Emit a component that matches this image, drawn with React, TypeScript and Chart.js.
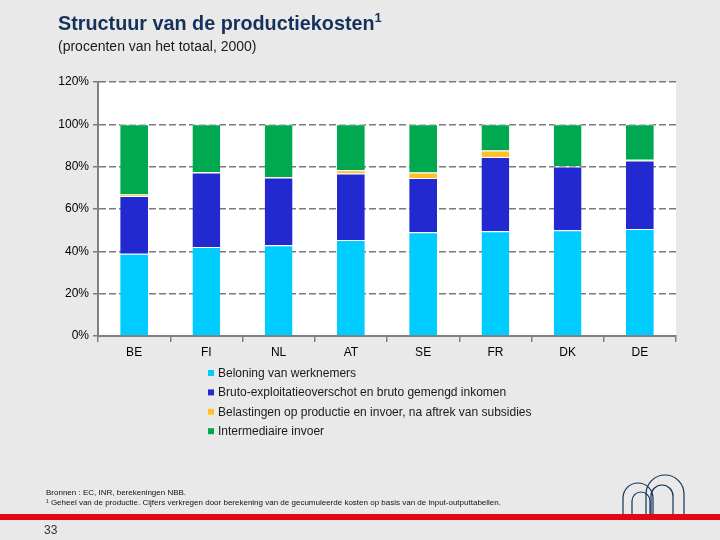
import { useEffect, useRef } from "react";
import { Chart, registerables, type Plugin } from "chart.js";

Chart.register(...registerables);

const COUNTRIES = ["BE", "FI", "NL", "AT", "SE", "FR", "DK", "DE"];
const LOONKOST = [38.8, 42.0, 42.9, 45.3, 49.0, 49.5, 50.0, 50.6];
const EXPLOITATIE = [27.3, 35.3, 32.0, 31.5, 25.7, 35.1, 30.1, 32.3];
const BELASTINGEN = [0.8, 0.2, 0.2, 1.5, 2.6, 3.0, 0.2, 0.4];
const INVOER = [33.1, 22.5, 24.9, 21.7, 22.7, 12.4, 19.7, 16.7];
const Y_TICKS = [0, 20, 40, 60, 80, 100, 120];

const SERIES = [
  { label: "Beloning van werknemers", data: LOONKOST, color: "#00CCFF" },
  { label: "Bruto-exploitatieoverschot en bruto gemengd inkomen", data: EXPLOITATIE, color: "#2329D0" },
  { label: "Belastingen op productie en invoer, na aftrek van subsidies", data: BELASTINGEN, color: "#FFC125" },
  { label: "Intermediaire invoer", data: INVOER, color: "#00A94F" },
];

const FONT = "Arial, 'Liberation Sans', sans-serif";

// white plot background + vertical legend list under the axis
const slidePlugin: Plugin<"bar"> = {
  id: "slide",
  beforeDraw(chart) {
    const { ctx, chartArea } = chart;
    ctx.save();
    ctx.fillStyle = "#ffffff";
    ctx.fillRect(chartArea.left, chartArea.top, chartArea.right - chartArea.left, chartArea.bottom - chartArea.top);
    ctx.restore();
  },
  afterDraw(chart) {
    const { ctx } = chart;
    ctx.save();
    ctx.font = `12px ${FONT}`;
    ctx.textBaseline = "middle";
    chart.data.datasets.forEach((ds, i) => {
      const y = 373 + i * 19.4;
      ctx.fillStyle = ds.backgroundColor as string;
      ctx.fillRect(208, y - 3, 6, 6);
      ctx.fillStyle = "#1a1a1a";
      ctx.fillText(ds.label ?? "", 218, y + 0.5);
    });
    ctx.restore();
  },
};

export default function App() {
  const canvasRef = useRef<HTMLCanvasElement>(null);
  const chartRef = useRef<Chart<"bar"> | null>(null);

  useEffect(() => {
    if (!canvasRef.current) return;
    chartRef.current = new Chart(canvasRef.current, {
      type: "bar",
      data: {
        labels: COUNTRIES,
        datasets: SERIES.map((s) => ({
          label: s.label,
          data: s.data,
          backgroundColor: s.color,
          borderColor: "#ffffff",
          borderWidth: { top: 1, right: 0, bottom: 0, left: 0 },
          borderSkipped: false,
          categoryPercentage: 1,
          barPercentage: 0.385,
        })),
      },
      options: {
        responsive: false,
        animation: false,
        devicePixelRatio: 1,
        layout: { padding: { left: 40, right: 44, top: 82, bottom: 174 } },
        plugins: {
          legend: { display: false },
          title: { display: false },
          tooltip: { enabled: false },
        },
        scales: {
          x: {
            stacked: true,
            afterFit: (scale) => {
              scale.height = 30;
            },
            grid: {
              drawOnChartArea: false,
              offset: true,
              color: "#808080",
              tickLength: 6,
              lineWidth: 1.5,
            },
            border: { color: "#808080", width: 2 },
            ticks: { color: "#000", font: { family: FONT, size: 12 }, padding: 3 },
          },
          y: {
            stacked: true,
            min: 0,
            max: 120,
            afterFit: (scale) => {
              scale.width = 58;
            },
            afterBuildTicks: (scale) => {
              scale.ticks = Y_TICKS.map((v) => ({ value: v }));
            },
            grid: { color: "#7a7a7a", lineWidth: 1.5, tickLength: 5 },
            border: { color: "#808080", width: 2, dash: [7, 3] },
            ticks: {
              color: "#000",
              font: { family: FONT, size: 12 },
              padding: 4,
              callback: (v) => `${v}%`,
            },
          },
        },
      },
      plugins: [slidePlugin],
    });
    return () => {
      chartRef.current?.destroy();
      chartRef.current = null;
    };
  }, []);

  return (
    <div
      style={{
        position: "absolute",
        left: 0,
        top: 0,
        width: 720,
        height: 540,
        background: "#E9E9E9",
        fontFamily: FONT,
        overflow: "hidden",
      }}
    >
      <canvas ref={canvasRef} width={720} height={540} style={{ position: "absolute", left: 0, top: 0 }} />
      <div style={{ position: "absolute", left: 58, top: 10, fontSize: 19.8, fontWeight: "bold", color: "#14315C", whiteSpace: "nowrap" }}>
        Structuur van de productiekosten<sup style={{ fontSize: 13 }}>1</sup>
      </div>
      <div style={{ position: "absolute", left: 58, top: 38, fontSize: 14, color: "#1a1a1a" }}>
        (procenten van het totaal, 2000)
      </div>
      <div style={{ position: "absolute", left: 46, top: 488, fontSize: 8, lineHeight: "10px", color: "#111", whiteSpace: "nowrap" }}>
        Bronnen : EC, INR, berekeningen NBB.
        <br />
        ¹ Geheel van de productie. Cijfers verkregen door berekening van de gecumuleerde kosten op basis van de input-outputtabellen.
      </div>
      <svg width={720} height={540} style={{ position: "absolute", left: 0, top: 0 }}>
        <g fill="none" stroke="#14315C" strokeWidth={1.2}>
          <path d="M646 514 V494 A19 19 0 0 1 684 494 V514" />
          <path d="M651 514 V496 A11 11 0 0 1 673 496 V514" />
          <path d="M623 514 V498 A15 15 0 0 1 653 498 V514" />
          <path d="M632 514 V501 A9 9 0 0 1 650 501 V514" />
        </g>
        <rect x={0} y={514} width={720} height={6} fill="#E30613" />
      </svg>
      <div style={{ position: "absolute", left: 44, top: 523, fontSize: 12, color: "#333" }}>33</div>
    </div>
  );
}
